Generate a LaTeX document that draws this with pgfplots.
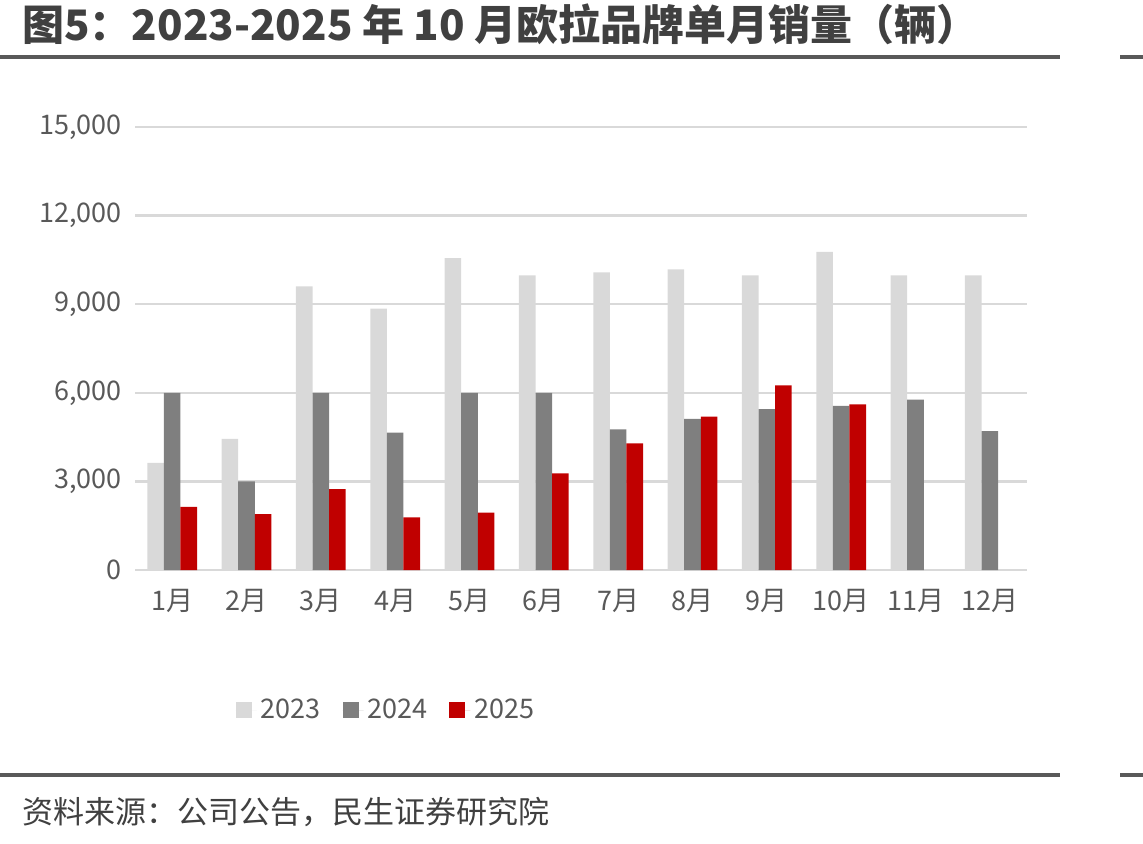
\documentclass[border=0pt]{standalone}
\usepackage{pgfplots}
\pgfplotsset{compat=1.18}
\usepackage{fontspec}
\setmainfont{Noto Sans CJK SC}
\definecolor{c23}{HTML}{D9D9D9}
\definecolor{c24}{HTML}{7F7F7F}
\definecolor{c25}{HTML}{C00000}
\definecolor{tick}{HTML}{595959}
\definecolor{titlec}{HTML}{404040}
\definecolor{rule}{HTML}{595959}
\begin{document}
\begin{tikzpicture}
\path[use as bounding box] (0,0) rectangle (571.5pt,421.5pt);
\node[anchor=west,inner sep=0,font=\fontsize{21}{24}\selectfont\bfseries,text=titlec] at (11pt,409.5pt) {图5：2023-2025 年 10 月欧拉品牌单月销量（辆）};
\fill[rule] (0pt,392pt) rectangle (530pt,394pt);
\fill[rule] (560pt,392pt) rectangle (571.5pt,394pt);
\fill[rule] (0pt,33pt) rectangle (530pt,35pt);
\fill[rule] (560pt,33pt) rectangle (571.5pt,35pt);
\node[anchor=west,inner sep=0,font=\fontsize{15.5}{18}\selectfont,text=titlec] at (11pt,15.5pt) {资料来源：公司公告，民生证券研究院};
\begin{axis}[
  at={(67.5pt,136.5pt)}, anchor=south west,
  scale only axis, width=446pt, height=221.5pt,
  ybar, ymin=0, ymax=15000, xmin=-0.5, xmax=11.5,
  ytick={0,3000,6000,9000,12000,15000},
  scaled y ticks=false,
  xtick=data,
  xticklabels={1月,2月,3月,4月,5月,6月,7月,8月,9月,10月,11月,12月},
  axis line style={draw=none},
  major tick length=0pt,
  ymajorgrids, grid style={c23, line width=1.2pt},
  tick label style={font=\fontsize{13.5}{15}\selectfont, text=tick},
  /pgf/number format/assume math mode=true,
  yticklabel style={/pgf/number format/fixed, /pgf/number format/1000 sep={,}, xshift=-3pt},
  xticklabel style={yshift=-6pt},
  bar width=8.3pt,
  legend style={draw=none, at={(0.2825,-0.316)}, anchor=center, font=\fontsize{13.5}{15}\selectfont, text=tick, legend columns=3, /tikz/every even column/.append style={column sep=9pt}},
  legend image code/.code={\fill[#1] (0pt,-4pt) rectangle (8pt,4pt); \path (0pt,0pt) -- (10.5pt,0pt);},
]
\addplot[fill=c23, draw=none, bar shift=-8.3pt] coordinates {(0,3630) (1,4440) (2,9600) (3,8850) (4,10560) (5,9980) (6,10080) (7,10180) (8,9980) (9,10770) (10,9980) (11,9980)};
\addplot[fill=c24, draw=none, bar shift=0pt] coordinates {(0,6000) (1,3000) (2,6000) (3,4650) (4,6000) (5,6000) (6,4760) (7,5120) (8,5450) (9,5560) (10,5770) (11,4700)};
\addplot[fill=c25, draw=none, bar shift=8.3pt] coordinates {(0,2140) (1,1890) (2,2740) (3,1780) (4,1940) (5,3270) (6,4290) (7,5190) (8,6250) (9,5610)};
\legend{2023,2024,2025}
\end{axis}
\end{tikzpicture}
\end{document}
